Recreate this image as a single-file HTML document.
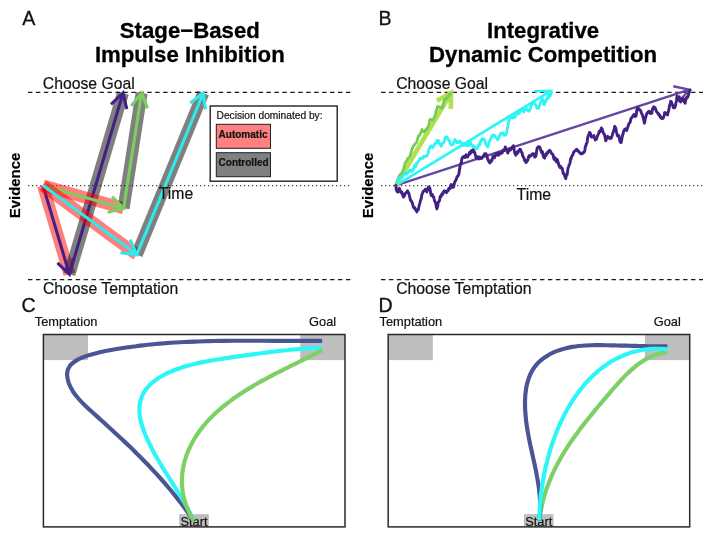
<!DOCTYPE html>
<html lang="en"><head><meta charset="utf-8"><title>Stage-Based Impulse Inhibition vs Integrative Dynamic Competition</title>
<style>
html,body{margin:0;padding:0;background:#fff;}
body{width:711px;height:537px;overflow:hidden;}
svg{display:block;font-family:"Liberation Sans",Arial,Helvetica,sans-serif;filter:blur(0.4px);}
text{fill:#111;stroke:#111;stroke-width:0.2px;paint-order:stroke;}
.t{font-weight:bold;font-size:22.2px;text-anchor:middle;fill:#000;stroke:#000;stroke-width:0.3px;}
.l{font-size:19.6px;stroke-width:0.3px;}
.c{font-size:15.75px;}
.s{font-size:12.8px;}
.e{font-weight:bold;font-size:14.9px;text-anchor:middle;fill:#000;}
</style></head><body>
<svg width="711" height="537" viewBox="0 0 711 537">
<rect width="711" height="537" fill="#fff"/>

<g id="panelA">
<text class="l" x="22.3" y="24.9">A</text>
<text class="t" x="189.8" y="38.2">Stage−Based</text>
<text class="t" x="189.8" y="62.3">Impulse Inhibition</text>
<text class="c" x="42.8" y="88.7">Choose Goal</text>
<text class="c" x="42.9" y="294.3">Choose Temptation</text>
<text class="e" transform="translate(19.7,185.5) rotate(-90)">Evidence</text>
<path d="M28 92.4H350.5" stroke="#1a1a1a" stroke-width="1.4" stroke-dasharray="4.4 3.55" fill="none"/>
<path d="M28 279.6H350.5" stroke="#1a1a1a" stroke-width="1.4" stroke-dasharray="4.4 3.55" fill="none"/>
<path d="M28 185.6H350.5" stroke="#444" stroke-width="1.15" stroke-dasharray="1.3 2.7" fill="none"/>
<path d="M43.00 185.60L69.40 274.30" fill="none" stroke="rgba(255,0,0,0.5)" stroke-width="12" stroke-linecap="butt"/>
<path d="M69.40 274.30L123.00 93.00" fill="none" stroke="rgba(0,0,0,0.5)" stroke-width="12" stroke-linecap="butt"/>
<path d="M43.00 185.60L69.40 274.30M73.23 258.25L69.40 274.30L57.42 262.96" fill="none" stroke="#432083" stroke-width="3.05" stroke-linecap="butt" stroke-linejoin="miter" stroke-miterlimit="10"/>
<path d="M69.40 274.30L123.00 93.00M111.04 104.36L123.00 93.00L126.86 109.04" fill="none" stroke="#432083" stroke-width="3.05" stroke-linecap="butt" stroke-linejoin="miter" stroke-miterlimit="10"/>
<path d="M43.00 185.60L123.60 208.30" fill="none" stroke="rgba(255,0,0,0.5)" stroke-width="12" stroke-linecap="butt"/>
<path d="M123.60 208.30L141.60 93.00" fill="none" stroke="rgba(0,0,0,0.5)" stroke-width="12" stroke-linecap="butt"/>
<path d="M43.00 185.60L123.60 208.30M112.08 196.49L123.60 208.30L107.61 212.37" fill="none" stroke="#7ccf5e" stroke-width="3.05" stroke-linecap="butt" stroke-linejoin="miter" stroke-miterlimit="10"/>
<path d="M123.60 208.30L141.60 93.00M131.24 105.85L141.60 93.00L147.55 108.39" fill="none" stroke="#7ccf5e" stroke-width="3.05" stroke-linecap="butt" stroke-linejoin="miter" stroke-miterlimit="10"/>
<path d="M43.00 185.60L136.80 254.60" fill="none" stroke="rgba(255,0,0,0.5)" stroke-width="12" stroke-linecap="butt"/>
<path d="M136.80 254.60L203.30 93.00" fill="none" stroke="rgba(0,0,0,0.5)" stroke-width="12" stroke-linecap="butt"/>
<path d="M43.00 185.60L136.80 254.60M130.18 239.49L136.80 254.60L120.40 252.78" fill="none" stroke="#2eeaea" stroke-width="3.05" stroke-linecap="butt" stroke-linejoin="miter" stroke-miterlimit="10"/>
<path d="M136.80 254.60L203.30 93.00M190.23 103.07L203.30 93.00L205.49 109.35" fill="none" stroke="#2eeaea" stroke-width="3.05" stroke-linecap="butt" stroke-linejoin="miter" stroke-miterlimit="10"/>
<text class="c" x="158.8" y="199.3" font-size="16">Time</text>
<rect x="210.2" y="106" width="127" height="75.2" fill="#fff" stroke="#222" stroke-width="1.4"/>
<text x="216.6" y="119.4" font-size="10.2" stroke-width="0.1">Decision dominated by:</text>
<rect x="216.3" y="124.3" width="54.2" height="24" fill="#ff8080" stroke="#222" stroke-width="1"/>
<text x="218.6" y="137.9" font-size="10" font-weight="bold" fill="#000" stroke-width="0.2">Automatic</text>
<rect x="216.3" y="152.7" width="54.2" height="24" fill="#808080" stroke="#222" stroke-width="1"/>
<text x="218.6" y="165.6" font-size="10" font-weight="bold" fill="#000" stroke-width="0.2">Controlled</text>
</g>
<g id="panelB">
<text class="l" x="378.5" y="24.6">B</text>
<text class="t" x="543.1" y="38.2">Integrative</text>
<text class="t" x="543.1" y="62.3">Dynamic Competition</text>
<text class="c" x="396.2" y="88.7">Choose Goal</text>
<text class="c" x="396.2" y="294.3">Choose Temptation</text>
<text class="c" x="516.6" y="199.5" font-size="16">Time</text>
<text class="e" transform="translate(372.6,185.5) rotate(-90)" x="0" y="0" dx="0">Evidence</text>
<path d="M381 92.4H703" stroke="#1a1a1a" stroke-width="1.4" stroke-dasharray="4.4 3.55" fill="none"/>
<path d="M381 279.6H703" stroke="#1a1a1a" stroke-width="1.4" stroke-dasharray="4.4 3.55" fill="none"/>
<path d="M381 185.6H703" stroke="#444" stroke-width="1.15" stroke-dasharray="1.3 2.7" fill="none"/>
<path d="M396.00 185.40L689.40 89.70M673.26 86.29L689.40 89.70L678.37 101.97" fill="none" stroke="#6646a0" stroke-width="2.4" stroke-linecap="butt" stroke-linejoin="miter" stroke-miterlimit="10"/>
<path d="M396.00 185.40L551.00 90.80M534.50 91.20L551.00 90.80L543.10 105.29" fill="none" stroke="#2ef5f5" stroke-width="2.6" stroke-linecap="butt" stroke-linejoin="miter" stroke-miterlimit="10"/>
<path d="M396.00 185.40L451.00 93.00M437.04 100.81L451.00 93.00L450.79 109.00" fill="none" stroke="#b3e04f" stroke-width="4.6" stroke-linecap="butt" stroke-linejoin="miter" stroke-miterlimit="10"/>
<path d="M395.8 185.3L396.3 183.6L396.9 182.7L397.4 180.3L397.9 179.2L398.4 177.7L398.9 176.2L399.5 176.2L400.0 175.0L400.5 174.1L401.0 173.8L401.4 173.7L401.9 172.8L402.4 172.3L402.9 170.8L403.4 169.4L403.8 168.0L404.3 165.9L404.8 164.3L405.2 162.7L405.7 162.0L406.2 161.4L406.6 160.7L407.1 160.2L407.6 158.7L408.1 158.1L408.6 157.8L409.1 157.8L409.6 156.7L410.1 155.8L410.6 153.9L411.1 152.7L411.6 150.3L412.2 148.4L412.7 148.3L413.2 146.0L413.7 145.8L414.2 145.3L414.7 144.3L415.2 143.8L415.7 143.4L416.2 143.4L416.7 141.9L417.2 140.1L417.8 138.3L418.3 136.3L418.8 135.9L419.4 134.9L419.9 135.2L420.4 133.5L420.9 132.3L421.5 131.3L422.0 129.4L422.4 131.7L422.9 131.1L423.3 131.9L423.8 131.2L424.3 132.1L424.8 130.4L425.3 130.9L425.8 130.1L426.3 129.4L426.8 128.4L427.3 128.3L427.8 126.9L428.3 126.3L428.8 124.6L429.2 123.9L429.7 120.3L430.2 119.4L430.7 119.9L431.2 119.5L431.7 119.5L432.2 119.1L432.7 120.1L433.2 119.5L433.7 118.5L434.2 117.6L434.7 116.6L435.2 115.7L435.8 111.8L436.4 110.0L436.9 108.8L437.5 106.4L438.0 106.5L438.5 106.5L439.1 106.9L439.6 106.9L440.1 107.0L440.6 107.5L441.1 108.3L441.6 108.2L442.1 108.2L442.6 107.2L443.1 105.1L443.6 102.0L444.1 101.3L444.6 99.4L445.1 99.1L445.6 98.4L446.1 98.8L446.7 98.3L447.2 97.7L447.7 96.9L448.2 96.0L448.7 96.2L449.2 95.3L449.8 93.7L450.3 93.6L450.8 93.1" fill="none" stroke="#72cc55" stroke-width="2.7" stroke-linejoin="round" stroke-linecap="round"/>
<path d="M396.3 185.0L396.8 183.6L397.3 182.3L397.8 182.5L398.3 180.2L398.8 179.7L399.3 177.4L399.8 178.0L400.3 177.8L400.8 178.6L401.3 177.8L401.8 177.8L402.4 177.1L402.9 176.1L403.4 175.9L403.9 174.4L404.4 173.7L405.0 173.9L405.5 173.6L406.0 172.8L406.6 174.2L407.1 173.8L407.6 172.8L408.1 172.5L408.6 171.6L409.2 170.9L409.7 170.1L410.2 171.3L410.6 170.7L411.1 170.3L411.6 170.4L412.0 171.5L412.5 170.8L413.0 168.9L413.6 169.6L414.1 166.9L414.6 165.2L415.1 165.3L415.6 166.8L416.1 165.6L416.6 163.1L417.1 163.2L417.6 162.4L418.1 161.6L418.6 161.1L419.0 160.3L419.5 159.6L420.0 158.3L420.4 158.5L420.9 158.8L421.4 158.5L421.9 157.8L422.4 158.0L423.0 158.1L423.5 156.9L424.0 156.1L424.5 156.7L425.0 156.6L425.4 156.3L425.9 156.4L426.4 156.3L426.8 156.3L427.3 154.6L427.8 154.1L428.4 152.2L428.9 149.5L429.4 148.3L429.9 147.4L430.3 146.2L430.8 146.0L431.3 146.7L431.7 146.0L432.2 146.2L432.7 147.7L433.1 146.4L433.6 145.6L434.1 145.8L434.5 144.0L435.0 143.4L435.5 143.5L436.0 143.4L436.5 142.9L437.0 140.3L437.5 141.3L438.0 140.8L438.5 140.5L439.0 143.0L439.6 143.6L440.1 144.5L440.6 145.5L441.1 146.4L441.6 145.0L442.1 144.0L442.6 143.1L443.1 142.8L443.6 142.5L444.1 142.0L444.6 140.5L445.1 137.4L445.6 137.1L446.0 136.9L446.5 137.5L447.0 137.0L447.5 137.8L447.9 139.5L448.4 139.5L448.9 139.9L449.3 140.4L449.8 142.0L450.3 143.6L450.8 144.1L451.3 144.9L451.8 145.0L452.3 145.0L452.8 144.5L453.3 144.1L453.8 141.9L454.3 140.8L454.8 139.6L455.3 140.2L455.8 140.6L456.3 141.5L456.8 142.7L457.3 141.7L457.7 141.8L458.2 142.8L458.7 142.0L459.1 142.2L459.6 141.3L460.1 141.0L460.5 142.1L461.0 142.4L461.5 143.6L461.9 144.2L462.4 145.5L462.9 143.3L463.3 144.7L463.8 145.5L464.3 144.9L464.7 143.8L465.2 143.4L465.7 144.4L466.2 145.1L466.6 145.8L467.1 144.5L467.6 144.0L468.1 145.5L468.6 145.8L469.0 144.7L469.5 144.1L470.0 143.0L470.4 142.3L470.9 143.4L471.4 143.9L471.8 145.5L472.3 146.3L472.8 145.6L473.2 145.7L473.7 148.3L474.2 147.6L474.6 146.7L475.1 147.7L475.6 147.8L476.0 147.8L476.5 149.0L477.0 147.3L477.5 147.5L478.0 146.4L478.5 145.0L479.0 144.2L479.5 145.0L480.0 144.1L480.4 141.7L480.9 139.9L481.4 140.4L481.9 140.5L482.3 138.7L482.8 140.0L483.3 139.9L483.8 139.1L484.3 139.2L484.8 140.3L485.3 141.9L485.8 144.1L486.3 144.9L486.8 145.7L487.3 145.7L487.8 146.9L488.2 145.3L488.7 144.4L489.2 142.2L489.6 140.7L490.1 139.8L490.6 138.7L491.1 137.6L491.6 136.6L492.1 135.5L492.6 136.0L493.2 136.1L493.7 134.9L494.2 135.4L494.8 135.6L495.3 136.9L495.8 137.4L496.3 138.0L496.8 138.1L497.3 138.9L497.8 140.0L498.3 138.7L498.9 137.0L499.4 136.1L500.0 134.7L500.5 133.5L501.0 133.1L501.6 133.7L502.1 133.3L502.7 132.9L503.2 133.5L503.7 135.0L504.2 135.4L504.7 135.1L505.2 134.5L505.7 135.0L506.1 133.8L506.6 132.4L507.1 129.9L507.5 127.6L508.0 125.5L508.4 123.4L508.9 120.8L509.4 118.8L509.9 117.4L510.4 116.8L510.9 117.6L511.4 117.3L511.9 118.2L512.4 117.2L512.9 117.0L513.4 117.5L513.9 116.8L514.4 116.3L514.9 117.6L515.4 116.1L515.9 114.7L516.4 113.3L516.9 112.5L517.4 112.5L517.9 113.3L518.3 114.0L518.8 113.6L519.3 113.2L519.8 112.0L520.2 110.7L520.7 110.0L521.2 110.3L521.7 110.1L522.2 110.4L522.8 110.9L523.3 110.4L523.8 111.9L524.3 110.9L524.8 109.9L525.3 109.0L525.8 109.4L526.3 108.8L526.8 108.6L527.3 109.4L527.8 110.8L528.3 111.1L528.8 111.3L529.3 110.5L529.8 109.7L530.3 108.8L530.8 106.5L531.3 105.0L531.8 104.8L532.3 102.6L532.8 103.1L533.4 102.6L533.9 101.8L534.4 103.2L534.9 104.1L535.3 104.3L535.8 105.0L536.3 106.3L536.8 107.7L537.3 108.3L537.8 108.2L538.3 108.2L538.8 108.2L539.3 106.0L539.8 104.8L540.2 103.1L540.7 101.9L541.2 100.9L541.7 99.8L542.1 99.4L542.6 98.8L543.0 101.1L543.5 101.6L544.0 103.1L544.4 104.4L544.9 102.5L545.4 102.3L545.9 101.7L546.4 99.1L546.9 98.8L547.4 98.8L547.9 97.4L548.4 98.1L548.9 97.5L549.4 95.7L549.9 96.1L550.3 95.7L550.8 94.4L551.3 92.5" fill="none" stroke="#2ef5f5" stroke-width="2.75" stroke-linejoin="round" stroke-linecap="round"/>
<path d="M395.8 185.4L396.3 189.5L396.8 190.9L397.2 191.5L397.7 192.1L398.1 192.0L398.5 190.1L399.0 189.6L399.4 188.3L399.9 190.0L400.4 190.9L400.8 191.9L401.3 192.7L401.8 192.1L402.3 194.0L402.9 195.6L403.4 197.1L403.9 196.5L404.4 195.8L404.9 194.3L405.4 193.2L405.9 192.9L406.5 192.2L407.0 192.1L407.5 190.8L408.0 191.9L408.4 193.1L408.9 193.3L409.4 195.8L409.9 197.6L410.4 200.0L410.9 200.6L411.4 201.1L411.9 202.0L412.4 203.2L412.9 205.2L413.3 206.8L413.8 207.7L414.3 207.5L414.8 207.8L415.4 209.8L415.9 209.8L416.4 210.8L416.9 212.0L417.4 209.8L417.9 209.1L418.3 209.7L418.8 207.0L419.3 205.1L419.8 203.4L420.3 201.0L420.8 199.9L421.3 198.3L421.8 194.9L422.3 193.7L422.8 192.4L423.3 191.3L423.8 190.8L424.3 190.9L424.8 190.7L425.2 189.2L425.7 189.5L426.3 190.7L426.9 192.0L427.4 190.0L427.9 188.4L428.3 187.1L428.8 187.7L429.3 187.5L429.8 187.9L430.2 190.0L430.7 193.3L431.2 195.5L431.7 195.1L432.2 194.2L432.7 196.2L433.2 197.0L433.7 196.9L434.1 198.8L434.6 200.9L435.1 202.0L435.6 203.2L436.0 204.7L436.4 207.3L436.9 208.9L437.3 207.3L437.8 205.7L438.2 202.0L438.7 201.8L439.1 201.3L439.6 200.4L440.1 197.0L440.6 196.0L441.1 196.5L441.6 194.4L442.1 193.8L442.6 194.5L443.1 192.1L443.5 192.6L443.9 192.1L444.4 190.8L444.9 191.0L445.4 191.6L445.9 191.7L446.4 192.7L446.9 192.0L447.4 190.7L447.9 190.9L448.3 190.0L448.8 188.3L449.3 188.4L449.8 189.0L450.3 187.7L450.8 185.5L451.3 184.5L451.8 185.0L452.2 185.3L452.7 187.4L453.2 187.0L453.6 187.1L454.1 184.7L454.5 182.7L455.0 181.6L455.5 180.9L456.0 180.0L456.5 178.6L457.0 177.0L457.4 176.3L457.9 176.1L458.4 175.1L458.8 174.5L459.2 171.7L459.7 168.4L460.1 165.8L460.6 163.9L461.1 163.4L461.5 161.2L462.0 158.3L462.5 157.4L463.0 156.9L463.6 157.3L464.1 156.4L464.6 156.3L465.1 157.6L465.6 155.5L466.1 154.8L466.6 155.5L467.1 156.3L467.6 157.0L468.1 155.5L468.6 155.0L469.0 154.2L469.5 152.6L469.9 154.0L470.4 153.4L470.9 151.8L471.3 150.7L471.8 151.2L472.3 151.9L472.9 150.0L473.4 150.2L473.9 152.0L474.3 151.8L474.8 152.7L475.2 154.6L475.7 156.4L476.2 158.2L476.7 156.8L477.2 156.7L477.7 156.7L478.2 157.6L478.7 159.1L479.1 156.9L479.6 158.5L480.1 157.5L480.6 158.6L481.0 157.6L481.5 158.2L482.0 158.3L482.5 157.1L483.1 156.2L483.6 155.9L484.1 155.0L484.6 153.8L485.1 154.5L485.6 154.8L486.0 153.7L486.5 155.7L487.0 155.9L487.4 158.2L487.9 159.2L488.4 160.7L488.9 161.6L489.4 162.1L489.9 163.0L490.5 161.7L491.0 160.4L491.5 161.3L492.0 159.7L492.5 158.1L493.0 156.1L493.5 156.7L494.0 156.9L494.5 157.8L494.9 156.2L495.4 155.6L495.9 153.8L496.4 154.0L496.9 155.0L497.3 153.5L497.8 154.4L498.3 155.2L498.9 154.9L499.4 152.7L499.9 154.0L500.4 153.7L501.0 153.0L501.5 153.2L502.0 152.3L502.4 152.5L502.9 150.2L503.4 150.1L503.9 150.2L504.4 150.4L504.8 148.9L505.3 146.9L505.8 148.6L506.3 149.5L506.9 150.3L507.4 152.4L507.9 152.9L508.4 151.3L508.9 150.9L509.4 149.0L509.9 149.8L510.4 150.0L510.9 149.4L511.4 148.2L511.9 147.9L512.4 146.8L512.9 146.9L513.4 145.7L513.9 147.9L514.3 150.5L514.8 153.3L515.3 153.8L515.8 155.2L516.3 153.8L516.8 153.1L517.3 151.7L517.8 153.2L518.3 151.4L518.8 150.8L519.2 150.0L519.7 149.4L520.2 149.2L520.7 149.8L521.2 151.9L521.7 152.3L522.2 153.2L522.7 155.7L523.2 157.0L523.6 157.3L524.1 158.2L524.5 160.4L525.0 159.9L525.5 160.5L525.9 162.6L526.4 162.3L526.9 161.1L527.4 160.8L527.9 159.8L528.4 157.5L528.9 156.1L529.3 155.6L529.8 156.7L530.3 156.3L530.8 155.8L531.3 155.4L531.8 154.2L532.4 154.5L532.9 153.7L533.4 154.4L533.9 153.8L534.3 155.9L534.8 157.1L535.3 156.9L535.8 156.1L536.2 154.3L536.7 150.6L537.2 148.2L537.7 147.8L538.2 146.7L538.7 146.8L539.2 146.9L539.7 146.9L540.2 148.0L540.7 150.0L541.2 151.4L541.7 152.6L542.2 151.3L542.7 153.4L543.2 155.9L543.6 156.8L544.1 157.5L544.6 158.1L545.1 155.1L545.7 154.2L546.2 155.4L546.7 153.1L547.2 152.5L547.7 153.1L548.2 151.8L548.6 151.1L549.1 150.7L549.6 150.3L550.1 150.8L550.7 151.6L551.2 153.0L551.7 153.5L552.2 153.8L552.7 154.3L553.2 155.4L553.6 157.8L554.1 159.4L554.6 158.5L555.1 157.7L555.7 160.3L556.2 161.4L556.7 162.0L557.2 159.4L557.7 160.9L558.2 162.2L558.7 164.8L559.2 166.1L559.7 166.9L560.2 167.8L560.7 166.3L561.2 167.8L561.7 168.5L562.2 168.2L562.7 170.7L563.2 173.6L563.6 173.3L564.1 173.8L564.7 175.7L565.2 177.4L565.8 178.6L566.3 175.5L566.7 175.5L567.2 174.4L567.6 171.1L568.1 167.6L568.6 166.7L569.1 165.0L569.6 164.2L570.1 162.3L570.6 158.8L571.0 159.1L571.5 157.0L571.9 156.3L572.4 155.2L572.9 154.7L573.4 153.0L573.9 151.9L574.4 151.3L574.9 151.0L575.4 150.9L575.9 150.4L576.4 149.3L576.9 149.4L577.4 150.4L577.8 150.6L578.3 150.9L578.8 151.9L579.3 152.2L579.8 152.8L580.3 153.2L580.9 153.8L581.4 154.0L581.9 153.2L582.4 152.9L582.9 153.3L583.4 153.0L583.9 152.1L584.4 151.9L584.9 149.8L585.3 146.9L585.8 145.8L586.3 143.8L586.8 143.5L587.2 141.4L587.7 137.7L588.2 135.6L588.8 135.0L589.4 132.5L589.9 132.5L590.3 133.1L590.8 135.0L591.3 136.9L591.8 136.2L592.3 136.9L592.8 136.7L593.3 135.9L593.8 135.6L594.3 137.5L594.8 138.8L595.3 140.1L595.8 139.3L596.3 139.4L596.8 138.3L597.3 136.1L597.8 135.3L598.3 134.1L598.8 133.1L599.3 131.2L599.8 132.0L600.3 131.5L600.9 129.6L601.4 127.9L601.9 128.8L602.4 129.3L602.8 131.1L603.3 132.9L603.8 133.8L604.3 134.2L604.8 136.0L605.2 138.0L605.7 140.7L606.2 139.8L606.7 138.2L607.1 137.4L607.6 136.3L608.1 136.9L608.7 137.4L609.2 137.5L609.7 138.6L610.2 137.9L610.8 137.7L611.3 138.1L611.8 136.4L612.2 135.7L612.7 133.4L613.2 132.5L613.7 130.6L614.3 128.8L614.8 126.3L615.3 127.8L615.8 128.1L616.4 131.6L616.9 133.8L617.4 135.8L617.8 135.8L618.3 136.5L618.8 135.6L619.3 138.2L619.8 140.9L620.2 140.8L620.7 142.6L621.2 142.4L621.7 139.8L622.1 137.2L622.6 135.3L623.1 133.8L623.6 131.4L624.1 130.3L624.6 129.5L625.1 129.1L625.6 128.8L626.1 129.8L626.6 130.6L627.1 128.8L627.6 127.8L628.1 126.3L628.6 124.4L629.1 123.5L629.6 122.7L630.1 122.4L630.6 120.0L631.1 118.3L631.7 117.7L632.2 117.0L632.7 116.2L633.3 115.7L633.8 114.4L634.3 115.5L634.8 116.3L635.2 116.6L635.7 116.3L636.2 115.1L636.6 111.3L637.0 109.2L637.5 108.2L638.0 107.6L638.5 108.7L639.0 109.8L639.5 109.3L640.0 110.0L640.5 110.5L641.0 111.7L641.4 113.1L641.9 113.8L642.4 114.8L642.9 116.6L643.4 118.4L643.9 121.0L644.4 123.2L644.9 121.2L645.3 118.6L645.8 117.0L646.3 115.0L646.8 113.5L647.3 113.0L647.8 112.1L648.3 111.8L648.8 111.9L649.3 111.2L649.8 113.2L650.3 112.6L650.8 113.4L651.3 113.2L651.8 113.3L652.4 109.9L652.9 108.1L653.4 107.3L653.9 106.9L654.5 108.2L655.0 107.5L655.5 109.1L656.0 110.2L656.5 111.5L657.0 112.3L657.5 112.5L658.0 113.7L658.5 113.4L658.9 115.3L659.4 115.0L659.9 115.3L660.4 117.5L660.8 117.3L661.3 117.4L661.8 118.6L662.2 118.7L662.7 117.9L663.2 118.2L663.7 116.8L664.2 115.5L664.6 112.7L665.1 112.5L665.6 114.1L666.1 114.0L666.6 114.2L667.1 113.7L667.6 115.0L668.0 112.4L668.5 111.2L669.0 108.9L669.4 106.3L669.8 104.7L670.3 103.7L670.7 101.3L671.2 101.5L671.7 103.1L672.2 104.0L672.7 105.1L673.2 107.5L673.7 107.8L674.2 106.4L674.6 107.8L675.1 106.9L675.6 105.4L676.0 102.6L676.5 100.3L677.0 96.3L677.5 98.1L677.9 99.5L678.3 98.4L678.8 96.9L679.3 96.8L679.8 99.4L680.2 100.5L680.7 101.9L681.2 101.2L681.7 100.7L682.1 99.2L682.6 98.8L683.1 98.4L683.6 99.4L684.1 100.8L684.6 102.4L685.1 103.2L685.6 100.8L686.0 99.4L686.5 97.4L687.0 97.5L687.5 97.5L687.9 96.6L688.3 95.3L688.8 93.8L689.2 91.9L689.7 90.6L690.1 90.0" fill="none" stroke="#432083" stroke-width="2.9" stroke-linejoin="round" stroke-linecap="round"/>
</g>
<g id="panelC">
<text class="l" x="21.5" y="311.5">C</text>
<rect x="43.4" y="334.5" width="44.6" height="25.6" fill="#bebebe"/>
<rect x="300.2" y="334.5" width="44.8" height="25.6" fill="#bebebe"/>
<rect x="179.2" y="514.2" width="29.6" height="12.5" fill="#bebebe"/>
<text class="s" x="34.8" y="326">Temptation</text>
<text class="s" x="309.1" y="326">Goal</text>
<text class="s" x="194" y="525.8" text-anchor="middle" font-size="13">Start</text>
<path d="M193.6 520.5C192.6 519.1 189.8 515.0 187.8 512.3C185.9 509.6 183.9 507.0 181.9 504.3C179.9 501.7 177.9 499.1 175.9 496.6C173.8 494.0 171.8 491.5 169.7 489.0C167.6 486.5 165.5 484.1 163.4 481.6C161.2 479.2 159.1 476.8 156.9 474.4C154.7 472.0 152.5 469.7 150.3 467.3C148.1 465.0 145.8 462.7 143.5 460.3C141.3 458.0 139.0 455.7 136.7 453.5C134.4 451.2 132.1 448.9 129.7 446.6C127.4 444.4 125.0 442.1 122.6 439.9C120.3 437.6 117.9 435.4 115.4 433.2C113.0 430.9 110.6 428.7 108.1 426.5C105.7 424.2 103.2 422.0 100.7 419.8C98.3 417.5 95.7 415.3 93.3 413.0C90.8 410.8 88.2 408.5 85.8 406.2C83.4 403.9 81.0 401.5 78.8 399.0C76.7 396.6 74.6 394.0 72.9 391.3C71.3 388.6 69.7 385.8 68.7 382.8C67.8 379.8 66.8 376.4 67.1 373.6C67.3 370.7 68.3 367.8 70.1 365.5C71.9 363.1 74.9 361.3 77.8 359.6C80.7 358.0 84.2 356.7 87.4 355.6C90.6 354.5 93.9 353.7 97.2 352.9C100.4 352.1 103.7 351.5 106.9 350.8C110.2 350.2 113.4 349.6 116.6 349.0C119.9 348.5 123.1 348.0 126.3 347.5C129.5 347.0 132.7 346.6 135.9 346.2C139.2 345.7 142.4 345.4 145.6 345.0C148.9 344.7 152.1 344.3 155.3 344.0C158.6 343.7 161.8 343.5 165.1 343.2C168.3 343.0 171.6 342.8 174.8 342.5C178.1 342.3 181.4 342.2 184.6 342.0C187.9 341.8 191.2 341.7 194.4 341.6C197.7 341.4 201.0 341.3 204.3 341.2C207.5 341.1 210.8 341.1 214.1 341.0C217.4 340.9 220.7 340.9 223.9 340.8C227.2 340.8 230.5 340.8 233.8 340.7C237.1 340.7 240.4 340.7 243.7 340.7C246.9 340.7 250.2 340.7 253.5 340.7C256.8 340.7 260.1 340.7 263.4 340.7C266.6 340.8 269.9 340.8 273.2 340.8C276.5 340.8 279.8 340.8 283.0 340.8C286.3 340.8 289.6 340.9 292.8 340.9C296.1 340.9 299.4 340.9 302.7 340.9C305.9 340.9 309.2 340.9 312.4 340.9C315.7 340.9 320.6 340.8 322.2 340.8" fill="none" stroke="#4a5596" stroke-width="4.15" stroke-linecap="butt" stroke-linejoin="round"/>
<path d="M193.6 520.5C193.1 519.4 191.6 516.2 190.6 514.2C189.5 512.1 188.4 510.0 187.3 507.9C186.2 505.9 185.0 503.9 183.9 501.8C182.7 499.8 181.5 497.8 180.3 495.8C179.1 493.8 177.9 491.8 176.6 489.8C175.4 487.9 174.1 485.9 172.9 483.9C171.6 481.9 170.4 479.9 169.1 477.9C167.9 475.9 166.6 473.9 165.3 471.9C164.1 469.9 162.8 467.9 161.6 465.9C160.4 463.8 159.2 461.8 158.0 459.7C156.8 457.7 155.6 455.6 154.4 453.5C153.3 451.3 152.2 449.2 151.1 447.0C150.0 444.9 148.9 442.7 147.9 440.4C146.8 438.2 145.8 435.9 144.9 433.7C144.0 431.4 143.2 429.1 142.4 426.8C141.7 424.5 141.1 422.2 140.6 420.0C140.1 417.7 139.7 415.4 139.5 413.2C139.4 411.0 139.3 408.8 139.5 406.6C139.7 404.5 140.1 402.3 140.6 400.3C141.2 398.3 141.9 396.3 142.9 394.4C143.8 392.5 144.9 390.7 146.2 389.0C147.5 387.3 149.0 385.7 150.6 384.1C152.2 382.6 154.0 381.2 155.9 379.8C157.7 378.5 159.7 377.2 161.8 376.0C163.9 374.9 166.1 373.8 168.3 372.7C170.6 371.7 172.9 370.7 175.2 369.8C177.6 368.9 180.0 368.1 182.3 367.3C184.7 366.6 187.1 365.9 189.5 365.2C191.9 364.6 194.3 364.0 196.6 363.4C199.0 362.9 201.3 362.4 203.7 361.9C206.0 361.5 208.3 361.0 210.6 360.6C212.9 360.2 215.2 359.8 217.6 359.5C219.9 359.1 222.2 358.8 224.4 358.4C226.7 358.1 229.0 357.8 231.3 357.4C233.6 357.1 235.9 356.7 238.2 356.4C240.5 356.1 242.8 355.7 245.1 355.4C247.4 355.1 249.8 354.8 252.1 354.4C254.4 354.1 256.7 353.8 259.0 353.5C261.3 353.2 263.6 352.9 265.9 352.6C268.2 352.3 270.6 352.0 272.9 351.7C275.2 351.4 277.5 351.2 279.9 350.9C282.2 350.6 284.5 350.4 286.9 350.2C289.2 349.9 291.5 349.7 293.9 349.5C296.2 349.3 298.6 349.1 300.9 348.9C303.3 348.7 305.6 348.5 308.0 348.4C310.3 348.2 312.7 348.1 315.1 348.0C317.4 347.9 321.0 347.7 322.2 347.7" fill="none" stroke="#2cf6f6" stroke-width="4.15" stroke-linecap="butt" stroke-linejoin="round"/>
<path d="M193.6 520.5C193.1 519.7 191.6 517.1 190.7 515.4C189.8 513.7 189.0 512.0 188.2 510.3C187.5 508.6 186.8 506.9 186.2 505.2C185.5 503.5 185.0 501.8 184.5 500.1C184.1 498.4 183.6 496.7 183.3 495.0C183.0 493.3 182.7 491.6 182.5 489.9C182.3 488.2 182.1 486.6 182.0 484.9C181.9 483.2 181.9 481.5 181.9 479.9C181.9 478.2 182.0 476.6 182.2 474.9C182.3 473.3 182.5 471.6 182.8 470.0C183.0 468.4 183.3 466.7 183.7 465.1C184.0 463.5 184.4 461.9 184.9 460.3C185.4 458.7 185.9 457.2 186.4 455.6C187.0 454.0 187.6 452.5 188.2 450.9C188.9 449.4 189.5 447.9 190.3 446.4C191.0 444.9 191.8 443.4 192.6 441.9C193.4 440.4 194.3 439.0 195.2 437.5C196.1 436.1 197.0 434.7 198.0 433.3C198.9 431.9 199.9 430.5 201.0 429.1C202.0 427.8 203.1 426.4 204.2 425.1C205.3 423.8 206.4 422.5 207.6 421.2C208.7 420.0 209.9 418.7 211.1 417.5C212.3 416.2 213.6 415.0 214.9 413.8C216.1 412.6 217.4 411.5 218.7 410.3C220.0 409.2 221.4 408.0 222.7 406.9C224.1 405.8 225.5 404.7 226.8 403.6C228.2 402.5 229.6 401.5 231.1 400.4C232.5 399.4 233.9 398.3 235.4 397.3C236.8 396.3 238.3 395.3 239.7 394.3C241.2 393.4 242.7 392.4 244.2 391.4C245.7 390.5 247.2 389.5 248.7 388.6C250.2 387.7 251.7 386.8 253.2 385.9C254.7 385.0 256.3 384.1 257.8 383.2C259.3 382.4 260.9 381.5 262.4 380.6C264.0 379.8 265.5 378.9 267.1 378.1C268.6 377.3 270.2 376.4 271.7 375.6C273.3 374.8 274.8 374.0 276.4 373.2C278.0 372.4 279.5 371.6 281.1 370.8C282.6 370.0 284.2 369.2 285.8 368.4C287.3 367.7 288.9 366.9 290.4 366.1C292.0 365.3 293.5 364.6 295.1 363.8C296.6 363.1 298.2 362.3 299.7 361.5C301.2 360.8 302.8 360.0 304.3 359.2C305.8 358.5 307.3 357.7 308.8 357.0C310.3 356.2 311.8 355.5 313.3 354.7C314.8 353.9 316.3 353.2 317.8 352.4C319.3 351.6 321.5 350.5 322.2 350.1" fill="none" stroke="#7dd066" stroke-width="4.15" stroke-linecap="butt" stroke-linejoin="round"/>
<rect x="43.4" y="334.5" width="301.6" height="192.39999999999998" fill="none" stroke="#2a2a2a" stroke-width="1.5"/>
</g>
<g id="panelD">
<text class="l" x="378.6" y="311.5">D</text>
<rect x="388.2" y="334.5" width="44.6" height="25.6" fill="#bebebe"/>
<rect x="644.9000000000001" y="334.5" width="44.8" height="25.6" fill="#bebebe"/>
<rect x="523.9000000000001" y="514.2" width="29.6" height="12.5" fill="#bebebe"/>
<text class="s" x="379.59999999999997" y="326">Temptation</text>
<text class="s" x="653.8" y="326">Goal</text>
<text class="s" x="538.7" y="525.8" text-anchor="middle" font-size="13">Start</text>
<path d="M539.4 520.5C539.5 519.7 539.8 517.2 540.0 515.6C540.3 514.0 540.5 512.4 540.8 510.9C541.1 509.3 541.4 507.7 541.7 506.1C542.1 504.6 542.4 503.0 542.8 501.5C543.2 500.0 543.6 498.5 544.0 497.0C544.5 495.4 544.9 493.9 545.4 492.5C545.9 491.0 546.3 489.5 546.9 488.0C547.4 486.6 547.9 485.1 548.5 483.7C549.0 482.2 549.6 480.8 550.2 479.4C550.8 477.9 551.4 476.5 552.0 475.1C552.6 473.7 553.3 472.3 554.0 470.9C554.6 469.5 555.3 468.1 556.0 466.8C556.7 465.4 557.4 464.0 558.2 462.7C558.9 461.3 559.6 460.0 560.4 458.6C561.2 457.3 561.9 456.0 562.7 454.6C563.5 453.3 564.3 452.0 565.1 450.7C566.0 449.4 566.8 448.0 567.6 446.7C568.5 445.4 569.4 444.1 570.2 442.9C571.1 441.6 572.0 440.3 572.9 439.0C573.8 437.7 574.7 436.5 575.6 435.2C576.5 433.9 577.4 432.7 578.4 431.4C579.3 430.1 580.2 428.9 581.2 427.6C582.1 426.4 583.1 425.1 584.1 423.9C585.0 422.6 586.0 421.4 587.0 420.2C588.0 418.9 589.0 417.7 590.0 416.5C591.0 415.2 592.0 414.0 593.0 412.8C594.0 411.5 595.0 410.3 596.0 409.1C597.0 407.9 598.0 406.6 599.1 405.4C600.1 404.2 601.1 403.0 602.2 401.8C603.2 400.5 604.2 399.3 605.3 398.1C606.3 396.9 607.3 395.7 608.4 394.5C609.4 393.2 610.5 392.0 611.5 390.8C612.6 389.6 613.6 388.4 614.7 387.2C615.7 386.0 616.8 384.8 617.8 383.6C618.9 382.4 620.0 381.2 621.0 380.1C622.1 378.9 623.2 377.8 624.3 376.6C625.4 375.5 626.5 374.4 627.7 373.3C628.8 372.2 629.9 371.2 631.1 370.1C632.2 369.1 633.4 368.1 634.6 367.1C635.7 366.2 636.9 365.2 638.2 364.3C639.4 363.4 640.6 362.5 641.9 361.7C643.1 360.9 644.4 360.1 645.7 359.3C647.0 358.6 648.3 357.8 649.7 357.2C651.0 356.5 652.4 355.9 653.8 355.4C655.2 354.9 656.6 354.4 658.1 354.0C659.6 353.7 661.1 353.4 662.6 353.1C664.1 352.9 666.5 352.9 667.3 352.8" fill="none" stroke="#7dd066" stroke-width="4.15" stroke-linecap="butt" stroke-linejoin="round"/>
<path d="M539.4 520.5C539.5 519.4 539.8 516.2 540.0 514.1C540.1 511.9 540.2 509.8 540.2 507.7C540.2 505.6 540.2 503.5 540.1 501.4C540.0 499.3 539.8 497.2 539.7 495.1C539.5 493.0 539.2 491.0 539.0 488.9C538.7 486.8 538.4 484.8 538.1 482.7C537.8 480.7 537.4 478.6 537.0 476.6C536.7 474.5 536.3 472.5 535.9 470.4C535.4 468.4 535.0 466.4 534.6 464.3C534.1 462.3 533.7 460.2 533.2 458.2C532.8 456.1 532.3 454.1 531.9 452.1C531.4 450.0 531.0 448.0 530.5 445.9C530.1 443.8 529.6 441.8 529.2 439.7C528.8 437.6 528.4 435.6 528.1 433.5C527.7 431.4 527.3 429.3 527.0 427.2C526.7 425.1 526.4 423.0 526.1 420.9C525.9 418.7 525.7 416.6 525.5 414.5C525.3 412.3 525.2 410.1 525.1 408.0C525.0 405.8 525.0 403.6 525.0 401.5C525.1 399.3 525.2 397.2 525.3 395.1C525.5 393.0 525.8 390.9 526.1 388.8C526.4 386.7 526.8 384.7 527.4 382.7C527.9 380.8 528.5 378.8 529.2 377.0C529.9 375.1 530.7 373.3 531.7 371.6C532.6 369.9 533.7 368.2 534.8 366.7C536.0 365.1 537.3 363.7 538.7 362.3C540.2 360.9 541.7 359.6 543.3 358.4C544.9 357.2 546.6 356.1 548.4 355.1C550.2 354.0 552.1 353.1 554.0 352.2C555.9 351.4 557.9 350.6 559.9 350.0C561.8 349.3 563.9 348.7 566.0 348.2C568.0 347.7 570.1 347.3 572.2 346.9C574.3 346.6 576.5 346.3 578.6 346.0C580.8 345.8 582.9 345.6 585.1 345.5C587.3 345.4 589.5 345.3 591.6 345.2C593.8 345.2 596.0 345.1 598.2 345.1C600.4 345.1 602.5 345.2 604.7 345.2C606.8 345.2 609.0 345.3 611.1 345.3C613.2 345.4 615.3 345.4 617.4 345.5C619.5 345.5 621.6 345.6 623.6 345.6C625.7 345.7 627.8 345.7 629.8 345.8C631.9 345.8 633.9 345.9 636.0 345.9C638.0 346.0 640.1 346.0 642.1 346.1C644.2 346.1 646.3 346.2 648.3 346.2C650.4 346.2 652.5 346.3 654.6 346.3C656.7 346.3 658.8 346.3 660.9 346.4C663.0 346.4 666.2 346.4 667.3 346.4" fill="none" stroke="#4a5596" stroke-width="4.15" stroke-linecap="butt" stroke-linejoin="round"/>
<path d="M539.4 520.5C539.4 519.7 539.4 517.4 539.5 515.8C539.5 514.2 539.6 512.6 539.7 511.0C539.7 509.3 539.8 507.7 539.9 506.1C540.1 504.5 540.2 502.8 540.3 501.2C540.5 499.5 540.6 497.8 540.8 496.2C541.0 494.5 541.2 492.8 541.4 491.1C541.6 489.5 541.9 487.8 542.1 486.1C542.4 484.4 542.6 482.7 542.9 481.0C543.2 479.3 543.5 477.6 543.8 475.9C544.2 474.2 544.5 472.5 544.9 470.8C545.2 469.1 545.6 467.4 546.0 465.7C546.4 464.0 546.8 462.3 547.3 460.6C547.7 458.9 548.1 457.2 548.6 455.5C549.1 453.8 549.6 452.1 550.1 450.4C550.6 448.7 551.1 447.0 551.7 445.3C552.2 443.7 552.8 442.0 553.4 440.3C554.0 438.7 554.6 437.0 555.2 435.4C555.8 433.7 556.5 432.1 557.1 430.5C557.8 428.8 558.5 427.2 559.2 425.6C559.9 424.0 560.6 422.4 561.4 420.8C562.1 419.3 562.9 417.7 563.7 416.1C564.4 414.6 565.2 413.1 566.1 411.5C566.9 410.0 567.7 408.5 568.6 407.0C569.5 405.5 570.4 404.0 571.3 402.6C572.2 401.1 573.1 399.7 574.1 398.3C575.0 396.9 576.0 395.5 577.0 394.1C578.0 392.7 579.0 391.4 580.0 390.0C581.0 388.7 582.1 387.4 583.2 386.1C584.2 384.8 585.3 383.5 586.5 382.3C587.6 381.1 588.7 379.9 589.9 378.7C591.0 377.5 592.2 376.3 593.4 375.2C594.6 374.0 595.9 372.9 597.1 371.9C598.4 370.8 599.6 369.7 600.9 368.7C602.2 367.7 603.5 366.7 604.9 365.8C606.2 364.8 607.5 363.9 608.9 363.0C610.3 362.2 611.7 361.3 613.1 360.5C614.5 359.7 616.0 358.9 617.4 358.2C618.9 357.4 620.4 356.7 621.9 356.1C623.4 355.4 624.9 354.8 626.4 354.2C628.0 353.7 629.5 353.1 631.1 352.6C632.7 352.1 634.3 351.7 635.9 351.3C637.5 350.9 639.2 350.5 640.8 350.2C642.5 349.9 644.2 349.7 645.9 349.4C647.6 349.2 649.3 349.1 651.1 348.9C652.8 348.8 654.6 348.8 656.4 348.7C658.1 348.7 660.0 348.8 661.8 348.9C663.6 349.0 666.4 349.2 667.3 349.3" fill="none" stroke="#2cf6f6" stroke-width="4.15" stroke-linecap="butt" stroke-linejoin="round"/>
<rect x="388.2" y="334.5" width="301.50000000000006" height="192.39999999999998" fill="none" stroke="#2a2a2a" stroke-width="1.5"/>
</g>
</svg></body></html>
